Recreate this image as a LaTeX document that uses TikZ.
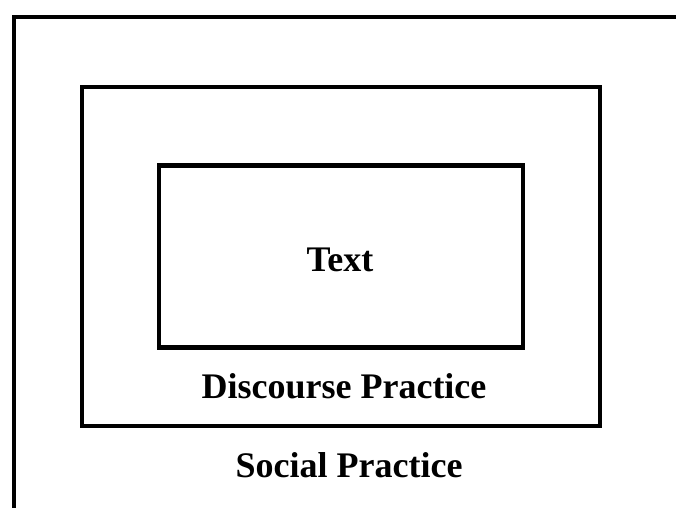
\documentclass[tikz,border=0pt]{standalone}
\usepackage{fontspec}
\setmainfont{Liberation Serif}
\usetikzlibrary{positioning}
\tikzset{
  frame/.style={rectangle, draw=black, line width=2.2pt, inner sep=0pt},
  lbl/.style={font=\fontsize{18}{21}\selectfont\bfseries, anchor=base,
    inner sep=0pt},
}

\begin{document}
\begin{tikzpicture}[x=0.5pt, y=-0.5pt]
\useasboundingbox (0,0) rectangle (676,508);
\clip (0,0) rectangle (676,508);

% ---- Social practice (runs off the page) ----
\node[frame, anchor=north west, minimum width=380pt, minimum height=290pt]
  (social) at (12,15) {};

% ---- Discourse practice ----
\node[frame, minimum width=259pt, minimum height=169.5pt]
  (discourse) at (341,256.5) {};

% ---- Text ----
\node[frame, minimum width=182pt, minimum height=91pt]
  (text) at (341,256.5) {};

% ---- Labels ----
\node[lbl] (textlbl) at (340,272) {Text};
\node[lbl] (discourselbl) at (344,399) {Discourse Practice};
\node[lbl] (sociallbl) at (349,478) {Social Practice};

\end{tikzpicture}
\end{document}
